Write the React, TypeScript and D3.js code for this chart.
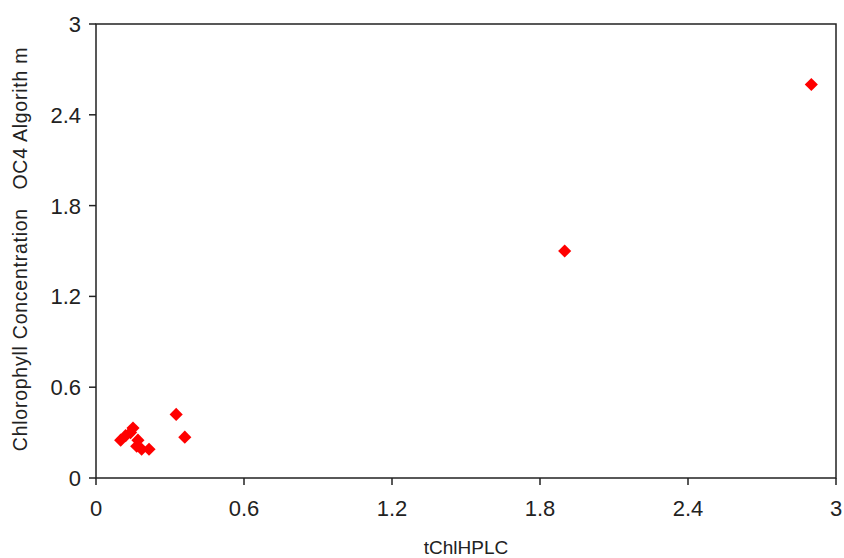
import React from "react";
import * as d3 from "d3";

const xValues = [0.10, 0.12, 0.14, 0.15, 0.17, 0.165, 0.185, 0.215, 0.325, 0.36, 1.90, 2.90];
const yValues = [0.25, 0.28, 0.30, 0.33, 0.25, 0.21, 0.19, 0.19, 0.42, 0.27, 1.50, 2.60];
const tickValues = [0, 0.6, 1.2, 1.8, 2.4, 3];
const tickLabels = ["0", "0.6", "1.2", "1.8", "2.4", "3"];
const xTitle = "tChlHPLC";
const yTitle = "Chlorophyll Concentration   OC4 Algorith m";

export default function App() {
  const W = 844, H = 558;
  const left = 96, right = 836, top = 24, bottom = 478;
  const x = d3.scaleLinear().domain([0, 3]).range([left, right]);
  const y = d3.scaleLinear().domain([0, 3]).range([bottom, top]);
  const diamond = d3.symbol().type(d3.symbolDiamond2).size(110)();
  const font = "'Liberation Sans', Arial, sans-serif";
  const textColor = "#222";
  return (
    <svg width={W} height={H} style={{ position: "absolute", left: 0, top: 0, background: "#fff" }}>
      <rect x={left} y={top} width={right - left} height={bottom - top} fill="none" stroke="#222" strokeWidth={1.5} />
      {tickValues.map((t, i) => (
        <g key={"y" + i}>
          <line x1={left - 7} x2={left} y1={y(t)} y2={y(t)} stroke="#222" strokeWidth={1.5} />
          <text x={left - 15} y={y(t)} dy="0.36em" textAnchor="end" fontFamily={font} fontSize={22} fill={textColor}>{tickLabels[i]}</text>
        </g>
      ))}
      {tickValues.map((t, i) => (
        <g key={"x" + i}>
          <line x1={x(t)} x2={x(t)} y1={bottom} y2={bottom + 7} stroke="#222" strokeWidth={1.5} />
          <text x={x(t)} y={bottom + 38} textAnchor="middle" fontFamily={font} fontSize={22} fill={textColor}>{tickLabels[i]}</text>
        </g>
      ))}
      {xValues.map((v, i) => (
        <path key={"p" + i} d={diamond} transform={`translate(${x(v)},${y(yValues[i])})`} fill="#ff0000" />
      ))}
      <text x={466} y={554} textAnchor="middle" fontFamily={font} fontSize={19} fill={textColor}>{xTitle}</text>
      <text transform="translate(27,249) rotate(-90)" textAnchor="middle" fontFamily={font} fontSize={19.5} letterSpacing={0.75} fill={textColor} style={{ whiteSpace: "pre" }}>{yTitle}</text>
    </svg>
  );
}
